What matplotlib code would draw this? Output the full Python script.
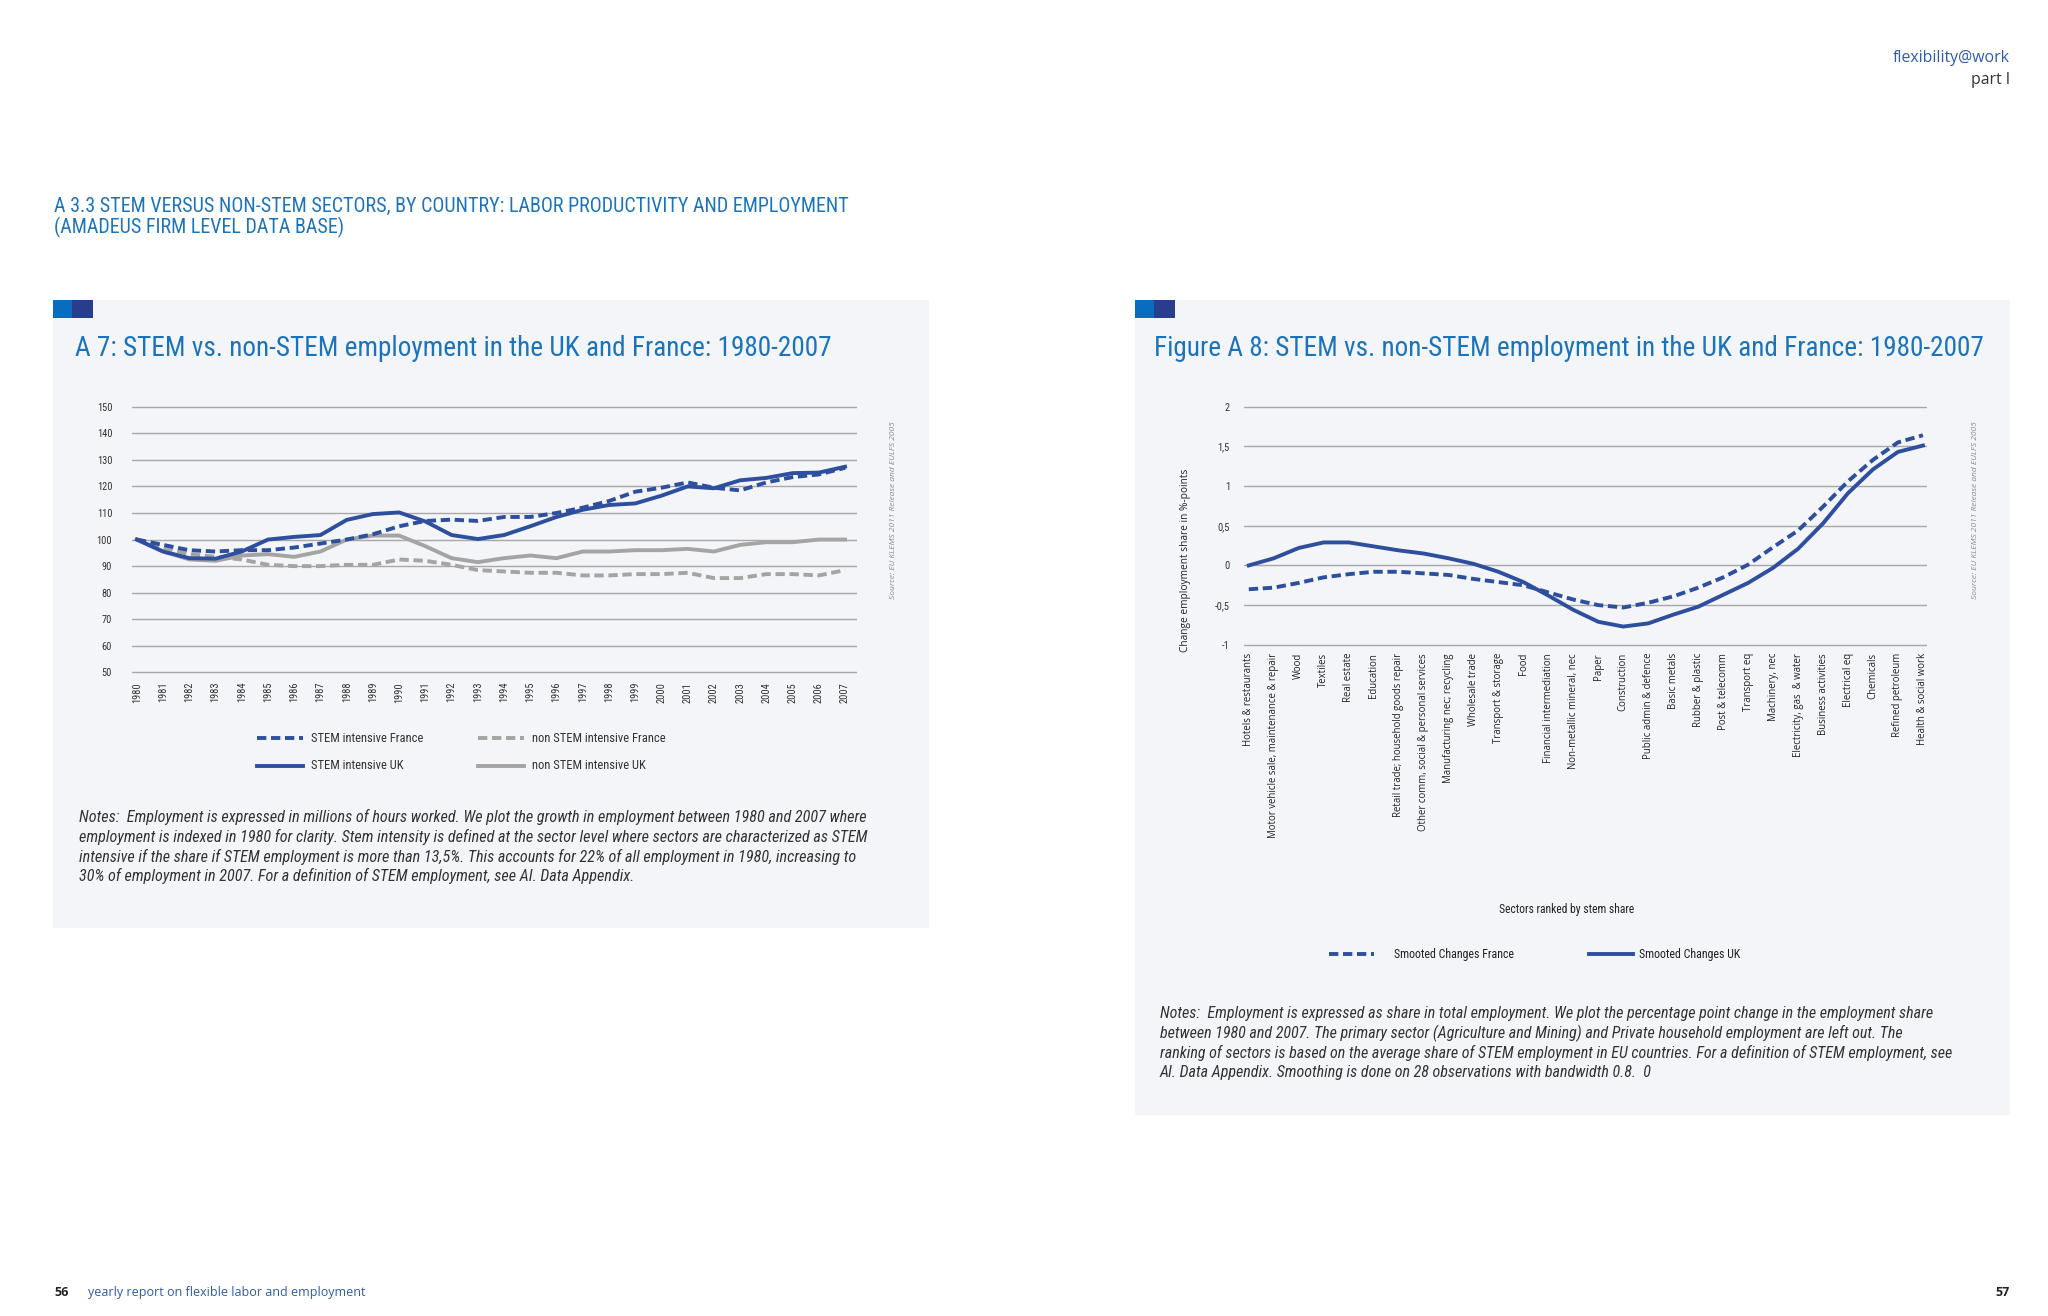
import numpy as np
import matplotlib.pyplot as plt
from matplotlib.lines import Line2D
from matplotlib.patches import Rectangle

# data, left chart (index 1980 = 100)
years = list(range(1980, 2008))
stem_france = [100, 98, 96, 95.5, 96, 96, 97, 98.5, 100, 102, 105, 107, 107.5, 107, 108.5, 108.5,
               110, 112, 114.5, 118, 119.5, 121.5, 119.5, 118.5, 121.5, 123.5, 124.5, 127]
stem_uk = [100, 95.5, 93, 92.8, 95.5, 100, 101, 101.7, 107.4, 109.6, 110.2, 106.8, 101.7, 100.2,
           101.7, 105, 108.5, 111.2, 113, 113.6, 116.5, 120, 119.3, 122.3, 123.2, 125, 125.2, 127.4]
nonstem_france = [100, 97, 94.5, 93.5, 92.5, 90.5, 90, 90, 90.5, 90.5, 92.5, 92, 90.5, 88.5, 88,
                  87.5, 87.5, 86.5, 86.5, 87, 87, 87.5, 85.5, 85.5, 87, 87, 86.5, 88.5]
nonstem_uk = [100, 95.5, 92.5, 92, 94, 94.5, 93.5, 95.5, 100, 101.5, 101.5, 97.5, 93, 91.5, 93,
              94, 93, 95.5, 95.5, 96, 96, 96.5, 95.5, 98, 99, 99, 100, 100]
left_yticks = [50, 60, 70, 80, 90, 100, 110, 120, 130, 140, 150]

# data, right chart (change in employment share, %-points)
sectors = ["Hotels & restaurants", "Motor vehicle sale, maintenance & repair", "Wood", "Textiles",
           "Real estate", "Education", "Retail trade; household goods repair",
           "Other comm, social & personal services", "Manufacturing nec; recycling",
           "Wholesale trade", "Transport & storage", "Food", "Financial intermediation",
           "Non-metallic mineral, nec", "Paper", "Construction", "Public admin & defence",
           "Basic metals", "Rubber & plastic", "Post & telecomm", "Transport eq", "Machinery, nec",
           "Electricity, gas  & water", "Business activities", "Electrical eq", "Chemicals",
           "Refined petroleum", "Health & social work"]
smooth_uk = [0.0, 0.09, 0.22, 0.29, 0.29, 0.24, 0.19, 0.15, 0.09, 0.02, -0.08, -0.21, -0.38, -0.56,
             -0.71, -0.77, -0.73, -0.62, -0.52, -0.37, -0.22, -0.03, 0.21, 0.53, 0.91, 1.21, 1.43, 1.51]
smooth_france = [-0.30, -0.28, -0.22, -0.15, -0.11, -0.08, -0.08, -0.10, -0.12, -0.17, -0.21, -0.25,
                 -0.34, -0.43, -0.50, -0.53, -0.47, -0.39, -0.28, -0.15, 0.01, 0.23, 0.44, 0.74,
                 1.06, 1.33, 1.55, 1.64]
right_yticks = [-1, -0.5, 0, 0.5, 1, 1.5, 2]
right_yticklabels = ["-1", "-0,5", "0", "0,5", "1", "1,5", "2"]

BLUE = "#2d4f9e"
GREY = "#a4a4a4"
GRID = "#a8a8a8"
TITLE = "#1b74bb"
PANEL = "#f4f5f9"
NARROW = ["Roboto Condensed", "Liberation Sans Narrow", "Lato", "DejaVu Sans"]
REG = ["Open Sans", "DejaVu Sans"]

W, H = 1556.0, 1000.0  # working units of the page


def fx(x):
    return x / W


def fy(y):
    return 1 - y / H


fig = plt.figure(figsize=(20.48, 13.16), dpi=100)
fig.patch.set_facecolor("white")

# page header/footer
fig.text(fx(1527), fy(44), "flexibility@work", ha="right", va="center", fontsize=11.4,
         family=REG, color="#2f5ca8")
fig.text(fx(1527), fy(61), "part I", ha="right", va="center", fontsize=11.4, family=REG,
         color="#333333")
fig.text(fx(41), fy(157), "A 3.3 STEM VERSUS NON-STEM SECTORS, BY COUNTRY: LABOR PRODUCTIVITY AND EMPLOYMENT",
         ha="left", va="center", fontsize=14.4, family=NARROW, color=TITLE)
fig.text(fx(41), fy(173), "(AMADEUS FIRM LEVEL DATA BASE)", ha="left", va="center", fontsize=14.4,
         family=NARROW, color=TITLE)
fig.text(fx(41), fy(982), "56", ha="left", va="center", fontsize=9, family=REG,
         weight="bold", color="#222222")
fig.text(fx(67), fy(982), "yearly report on flexible labor and employment", ha="left", va="center",
         fontsize=9, family=REG, color="#2f5ca8")
fig.text(fx(1527), fy(982), "57", ha="right", va="center", fontsize=9, family=REG,
         weight="bold", color="#222222")

# panels with the two small squares
for (x0, x1, y0, y1) in [(40, 706, 228, 705), (862, 1527, 228, 847)]:
    fig.patches.append(Rectangle((fx(x0), fy(y1)), fx(x1 - x0), (y1 - y0) / H,
                                 transform=fig.transFigure, facecolor=PANEL, edgecolor="none", zorder=-10))
    fig.patches.append(Rectangle((fx(x0), fy(242)), fx(15), 14 / H, transform=fig.transFigure,
                                 facecolor="#0a6cbf", edgecolor="none", zorder=-9))
    fig.patches.append(Rectangle((fx(x0 + 15), fy(242)), fx(16), 14 / H, transform=fig.transFigure,
                                 facecolor="#283d8b", edgecolor="none", zorder=-9))

fig.text(fx(57), fy(265), "A 7: STEM vs. non-STEM employment in the UK and France: 1980-2007",
         ha="left", va="center", fontsize=19.6, family=NARROW, color=TITLE)
fig.text(fx(877), fy(265), "Figure A 8: STEM vs. non-STEM employment in the UK and France: 1980-2007",
         ha="left", va="center", fontsize=19.6, family=NARROW, color=TITLE)


def style_axes(ax):
    ax.patch.set_alpha(0)
    for s in ax.spines.values():
        s.set_visible(False)
    ax.tick_params(length=0)


# ---- left chart
ax1 = fig.add_axes([fx(100), fy(515), fx(551), 210 / H])
style_axes(ax1)
x = np.arange(len(years))
for t in left_yticks:
    ax1.axhline(t, color=GRID, lw=1.0, zorder=1)
ax1.plot(x, nonstem_france, color=GREY, lw=2.8, dashes=(2.4, 1.2), zorder=3)
ax1.plot(x, nonstem_uk, color=GREY, lw=2.8, zorder=3)
ax1.plot(x, stem_france, color=BLUE, lw=2.8, dashes=(2.4, 1.2), zorder=4)
ax1.plot(x, stem_uk, color=BLUE, lw=2.8, zorder=4)
ax1.set_xlim(-0.2, 27.45)
ax1.set_ylim(48, 152)
ax1.set_yticks(left_yticks)
ax1.set_yticklabels([str(t) for t in left_yticks], family=NARROW, fontsize=7.5, color="#333333")
ax1.set_xticks(x)
ax1.set_xticklabels([str(yr) for yr in years], rotation=90, family=NARROW, fontsize=7.5,
                    color="#333333", va="top")
ax1.tick_params(axis="y", pad=14)
ax1.tick_params(axis="x", pad=3)

fig.text(fx(679), fy(388), "Source: EU KLEMS 2011 Release and EULFS 2005", rotation=90,
         ha="center", va="center", fontsize=6, style="italic", family=REG, color="#8a8a8a")

# legend left
leg_items = [(195, 561, BLUE, True, "STEM intensive France"),
             (363, 561, GREY, True, "non STEM intensive France"),
             (195, 582, BLUE, False, "STEM intensive UK"),
             (363, 582, GREY, False, "non STEM intensive UK")]
for lx, ly, col, dashed, lab in leg_items:
    ln = Line2D([fx(lx), fx(lx + 35)], [fy(ly), fy(ly)], transform=fig.transFigure, color=col, lw=2.8)
    if dashed:
        ln.set_dashes((2.4, 1.2))
    fig.lines.append(ln)
    fig.text(fx(lx + 41), fy(ly), lab, ha="left", va="center", fontsize=9, family=NARROW,
             color="#333333")

notes_left = ["Notes:  Employment is expressed in millions of hours worked. We plot the growth in employment between 1980 and 2007 where",
              "employment is indexed in 1980 for clarity. Stem intensity is defined at the sector level where sectors are characterized as STEM",
              "intensive if the share if STEM employment is more than 13,5%. This accounts for 22% of all employment in 1980, increasing to",
              "30% of employment in 2007. For a definition of STEM employment, see AI. Data Appendix."]
for i, line in enumerate(notes_left):
    fig.text(fx(60), fy(621 + 15 * i), line, ha="left", va="center", fontsize=11.6,
             style="italic", family=NARROW, color="#333333")

# ---- right chart
ax2 = fig.add_axes([fx(945), fy(493), fx(519), 187 / H])
style_axes(ax2)
xs = np.arange(len(sectors))
for t in right_yticks:
    ax2.axhline(t, color=GRID, lw=1.0, zorder=1)
ax2.plot(xs, smooth_france, color=BLUE, lw=2.8, dashes=(2.4, 1.2), zorder=3)
ax2.plot(xs, smooth_uk, color=BLUE, lw=2.8, zorder=4)
ax2.set_xlim(-0.2, 27.16)
ax2.set_ylim(-1.05, 2.05)
ax2.set_yticks(right_yticks)
ax2.set_yticklabels(right_yticklabels, family=NARROW, fontsize=7.5, color="#333333")
ax2.set_xticks(xs)
ax2.set_xticklabels(sectors, rotation=90, family=REG, fontsize=6.9, color="#222222", va="top")
ax2.tick_params(axis="y", pad=10)
ax2.tick_params(axis="x", pad=3)
ax2.set_ylabel("Change employment share in %-points", family=REG, fontsize=7.3, color="#222222",
               labelpad=12)
ax2.yaxis.set_label_coords(-0.077, 0.36)

fig.text(fx(1190), fy(691), "Sectors ranked by stem share", ha="center", va="center", fontsize=8.4,
         family=NARROW, color="#222222")
fig.text(fx(1501), fy(388), "Source: EU KLEMS 2011 Release and EULFS 2005", rotation=90,
         ha="center", va="center", fontsize=6, style="italic", family=REG, color="#8a8a8a")

for lx, dashed, lab in [(1010, True, "Smooted Changes France"), (1207, False, "Smooted Changes UK")]:
    ln = Line2D([fx(lx), fx(lx + 34)], [fy(725), fy(725)], transform=fig.transFigure, color=BLUE, lw=2.8)
    if dashed:
        ln.set_dashes((2.4, 1.2))
    fig.lines.append(ln)
    fig.text(fx(lx + (49 if dashed else 38)), fy(725), lab, ha="left", va="center", fontsize=8.6,
             family=NARROW, color="#222222")

notes_right = ["Notes:  Employment is expressed as share in total employment. We plot the percentage point change in the employment share",
               "between 1980 and 2007. The primary sector (Agriculture and Mining) and Private household employment are left out. The",
               "ranking of sectors is based on the average share of STEM employment in EU countries. For a definition of STEM employment, see",
               "AI. Data Appendix. Smoothing is done on 28 observations with bandwidth 0.8.  0"]
for i, line in enumerate(notes_right):
    fig.text(fx(881), fy(770 + 15 * i), line, ha="left", va="center", fontsize=11.5,
             style="italic", family=NARROW, color="#333333")

fig.savefig("out.png", dpi=100, facecolor="white")
